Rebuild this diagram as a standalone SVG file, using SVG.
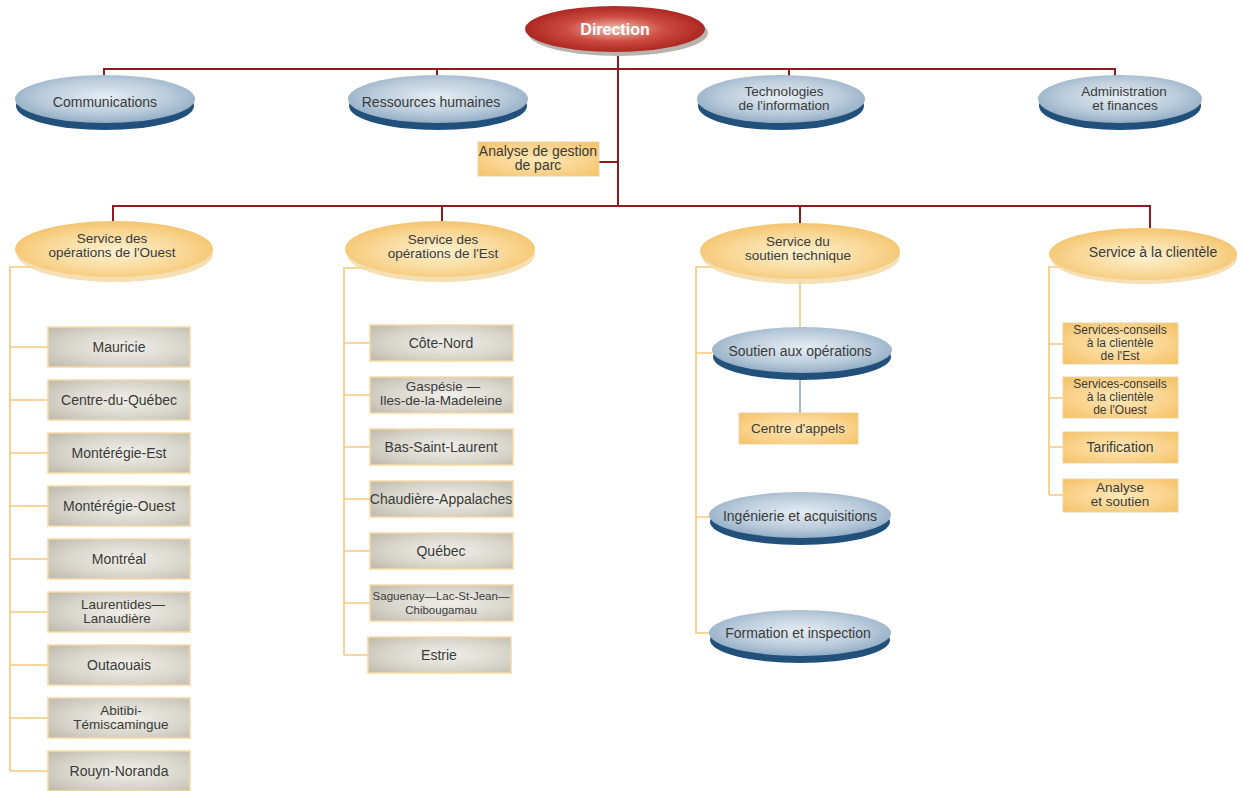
<svg xmlns="http://www.w3.org/2000/svg" width="1244" height="791" viewBox="0 0 1244 791">
<defs>
<radialGradient id="gBlue" cx="0.5" cy="0.45" r="0.6">
<stop offset="0" stop-color="#e6edf3"/><stop offset="0.6" stop-color="#b9cbdb"/><stop offset="1" stop-color="#8aa6c0"/>
</radialGradient>
<radialGradient id="gRed" cx="0.5" cy="0.5" r="0.6">
<stop offset="0" stop-color="#efc0b6"/><stop offset="0.45" stop-color="#cd4d42"/><stop offset="1" stop-color="#9e1713"/>
</radialGradient>
<radialGradient id="gOrEll" cx="0.5" cy="0.55" r="0.6">
<stop offset="0" stop-color="#fdf1d0"/><stop offset="0.55" stop-color="#f9d99a"/><stop offset="1" stop-color="#f4c064"/>
</radialGradient>
<radialGradient id="gGray" cx="0.55" cy="0.5" r="0.7">
<stop offset="0" stop-color="#f1efe9"/><stop offset="0.6" stop-color="#d8d5cc"/><stop offset="1" stop-color="#c0bcb0"/>
</radialGradient>
<radialGradient id="gOrBox" cx="0.5" cy="0.5" r="0.7">
<stop offset="0" stop-color="#fde8b6"/><stop offset="0.6" stop-color="#fad28b"/><stop offset="1" stop-color="#f5c062"/>
</radialGradient>
</defs>
<style>
text{font-family:"Liberation Sans",Arial,sans-serif;font-size:14px;fill:#3a3a3a;text-anchor:middle}
.red{stroke:#8e1b1f;stroke-width:2;fill:none}
.org{stroke:#f5c77e;stroke-width:1.6;fill:none}
.bl{stroke:#8fa6bb;stroke-width:1.6;fill:none}
.be{fill:url(#gBlue)}
.bs{fill:#21507a}
.oe{fill:url(#gOrEll)}
.os{fill:#f3d7a3;opacity:0.8}
.gb{fill:url(#gGray);stroke:#f7d9a4;stroke-width:1.5}
.ob{fill:url(#gOrBox);stroke:#e9d4a8;stroke-width:1}
.sm{font-size:13.5px}
.cl{font-size:12px}
.xs{font-size:11.5px}
.dir{fill:#ffffff;font-weight:bold;font-size:16px}
</style>

<g id="connectors">
<path class="red" d="M618 52 V206"/>
<path class="red" d="M104 75 V69 H1115 V76"/>
<path class="red" d="M437 69 V76"/>
<path class="red" d="M789 69 V76"/>
<path class="red" d="M599 162 H618"/>
<path class="red" d="M113 221 V206 H1150 V228"/>
<path class="red" d="M442 206 V221"/>
<path class="red" d="M800 206 V223"/>
<path class="org" d="M38 267 H10 V771"/>
<path class="org" d="M10 347 H48 M10 400 H48 M10 453 H48 M10 506 H48 M10 559 H48 M10 612 H48 M10 665 H48 M10 718 H48 M10 771 H48"/>
<path class="org" d="M368 268 H344 V655"/>
<path class="org" d="M344 343 H370 M344 395 H370 M344 447 H370 M344 499 H370 M344 551 H370 M344 603 H370 M344 655 H370"/>
<path class="org" d="M722 267 H696 V633 H712"/>
<path class="org" d="M696 353 H712 M696 517 H710"/>
<path class="org" d="M800 279 V328"/>
<path class="bl" d="M800 380 V413"/>
<path class="org" d="M1073 267 H1049 V495"/>
<path class="org" d="M1049 344 H1063 M1049 398 H1063 M1049 447 H1063 M1049 495 H1063"/>
</g>

<g id="direction">
<ellipse cx="618" cy="33" rx="90" ry="23" fill="#b9b3ae"/>
<ellipse cx="615" cy="29" rx="90" ry="23" fill="url(#gRed)"/>
<text class="dir" x="615" y="35">Direction</text>
</g>

<g id="communications">
<ellipse class="bs" cx="105" cy="106" rx="89" ry="24"/>
<ellipse class="be" cx="105" cy="99" rx="90" ry="24"/>
<text x="105" y="107">Communications</text>
</g>
<g id="ressources-humaines">
<ellipse class="bs" cx="438" cy="106" rx="89" ry="24"/>
<ellipse class="be" cx="438" cy="99" rx="90" ry="24"/>
<text x="431" y="107">Ressources humaines</text>
</g>
<g id="technologies">
<ellipse class="bs" cx="781" cy="106" rx="83" ry="24"/>
<ellipse class="be" cx="781" cy="99" rx="84" ry="24"/>
<text class="sm" x="784" y="96">Technologies</text>
<text class="sm" x="784" y="110">de l'information</text>
</g>
<g id="administration">
<ellipse class="bs" cx="1120" cy="106" rx="81" ry="24"/>
<ellipse class="be" cx="1120" cy="99" rx="82" ry="24"/>
<text class="sm" x="1124" y="96">Administration</text>
<text class="sm" x="1125" y="110">et finances</text>
</g>

<g id="analyse-gestion-parc">
<rect class="ob" x="478" y="142" width="121" height="34"/>
<text x="538" y="156">Analyse de gestion</text>
<text x="538" y="170">de parc</text>
</g>

<g id="service-ouest">
<ellipse class="os" cx="115" cy="254" rx="98" ry="28"/>
<ellipse class="oe" cx="114" cy="249" rx="99" ry="28"/>
<text class="sm" x="112" y="243">Service des</text>
<text class="sm" x="112" y="257">opérations de l'Ouest</text>
</g>
<g id="service-est">
<ellipse class="os" cx="441" cy="254" rx="94" ry="28"/>
<ellipse class="oe" cx="440" cy="249" rx="95" ry="28"/>
<text class="sm" x="443" y="244">Service des</text>
<text class="sm" x="443" y="258">opérations de l'Est</text>
</g>
<g id="service-soutien">
<ellipse class="os" cx="801" cy="256" rx="99" ry="28"/>
<ellipse class="oe" cx="800" cy="251" rx="100" ry="28"/>
<text class="sm" x="798" y="246">Service du</text>
<text class="sm" x="798" y="260">soutien technique</text>
</g>
<g id="service-clientele">
<ellipse class="os" cx="1144" cy="258" rx="93" ry="26"/>
<ellipse class="oe" cx="1143" cy="254" rx="94" ry="26"/>
<text x="1153" y="257">Service à la clientèle</text>
</g>

<g id="mauricie"><rect class="gb" x="48" y="327" width="142" height="40"/><text x="119" y="352">Mauricie</text></g>
<g id="centre-du-quebec"><rect class="gb" x="48" y="380" width="142" height="40"/><text x="119" y="405">Centre-du-Québec</text></g>
<g id="monteregie-est"><rect class="gb" x="48" y="433" width="142" height="40"/><text x="119" y="458">Montérégie-Est</text></g>
<g id="monteregie-ouest"><rect class="gb" x="48" y="486" width="142" height="40"/><text x="119" y="511">Montérégie-Ouest</text></g>
<g id="montreal"><rect class="gb" x="48" y="539" width="142" height="40"/><text x="119" y="564">Montréal</text></g>
<g id="laurentides"><rect class="gb" x="48" y="592" width="142" height="40"/><text class="sm" x="123" y="609">Laurentides—</text><text class="sm" x="117" y="623">Lanaudière</text></g>
<g id="outaouais"><rect class="gb" x="48" y="645" width="142" height="40"/><text x="119" y="670">Outaouais</text></g>
<g id="abitibi"><rect class="gb" x="48" y="698" width="142" height="40"/><text class="sm" x="121" y="715">Abitibi-</text><text class="sm" x="121" y="729">Témiscamingue</text></g>
<g id="rouyn-noranda"><rect class="gb" x="48" y="751" width="142" height="40"/><text x="119" y="776">Rouyn-Noranda</text></g>

<g id="cote-nord"><rect class="gb" x="370" y="325" width="143" height="36"/><text x="441" y="348">Côte-Nord</text></g>
<g id="gaspesie"><rect class="gb" x="370" y="377" width="143" height="36"/><text class="sm" x="443" y="391">Gaspésie —</text><text class="sm" x="441" y="405">Iles-de-la-Madeleine</text></g>
<g id="bas-saint-laurent"><rect class="gb" x="370" y="429" width="143" height="36"/><text x="441" y="452">Bas-Saint-Laurent</text></g>
<g id="chaudiere-appalaches"><rect class="gb" x="370" y="481" width="143" height="36"/><text x="441" y="504">Chaudière-Appalaches</text></g>
<g id="quebec"><rect class="gb" x="370" y="533" width="143" height="36"/><text x="441" y="556">Québec</text></g>
<g id="saguenay"><rect class="gb" x="370" y="585" width="143" height="36"/><text class="xs" x="441" y="600">Saguenay—Lac-St-Jean—</text><text class="xs" x="441" y="614">Chibougamau</text></g>
<g id="estrie"><rect class="gb" x="368" y="637" width="143" height="36"/><text x="439" y="660">Estrie</text></g>

<g id="soutien-operations">
<ellipse class="bs" cx="802" cy="357" rx="89" ry="23"/>
<ellipse class="be" cx="802" cy="350" rx="90" ry="23"/>
<text x="800" y="356">Soutien aux opérations</text>
</g>
<g id="centre-appels"><rect class="ob" x="739" y="413" width="119" height="31"/><text class="sm" x="798" y="433">Centre d'appels</text></g>
<g id="ingenierie">
<ellipse class="bs" cx="800" cy="522" rx="90" ry="23"/>
<ellipse class="be" cx="800" cy="515" rx="91" ry="23"/>
<text x="800" y="521">Ingénierie et acquisitions</text>
</g>
<g id="formation">
<ellipse class="bs" cx="800" cy="640" rx="90" ry="23"/>
<ellipse class="be" cx="800" cy="633" rx="91" ry="23"/>
<text x="798" y="638">Formation et inspection</text>
</g>

<g id="conseils-est"><rect class="ob" x="1063" y="323" width="115" height="41"/><text class="cl" x="1120" y="334">Services-conseils</text><text class="cl" x="1120" y="347">à la clientèle</text><text class="cl" x="1120" y="360">de l'Est</text></g>
<g id="conseils-ouest"><rect class="ob" x="1063" y="377" width="115" height="41"/><text class="cl" x="1120" y="388">Services-conseils</text><text class="cl" x="1120" y="401">à la clientèle</text><text class="cl" x="1120" y="414">de l'Ouest</text></g>
<g id="tarification"><rect class="ob" x="1063" y="432" width="115" height="31"/><text x="1120" y="452">Tarification</text></g>
<g id="analyse-soutien"><rect class="ob" x="1063" y="479" width="115" height="33"/><text class="sm" x="1120" y="492">Analyse</text><text class="sm" x="1120" y="506">et soutien</text></g>
</svg>
